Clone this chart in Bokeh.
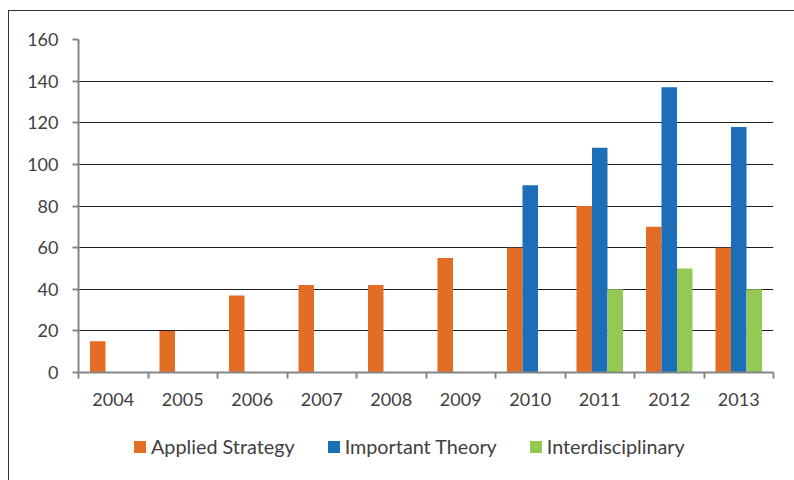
import numpy as np
from bokeh.plotting import figure
from bokeh.layouts import column
from bokeh.models import ColumnDataSource, FixedTicker, Legend, LegendItem, Range1d
from bokeh.transform import dodge
from bokeh.embed import file_html
from bokeh.resources import INLINE

years = ["2004", "2005", "2006", "2007", "2008", "2009", "2010", "2011", "2012", "2013"]
applied_strategy = [15, 20, 37, 42, 42, 55, 60, 80, 70, 60]
important_theory = [0, 0, 0, 0, 0, 0, 90, 108, 137, 118]
interdisciplinary = [0, 0, 0, 0, 0, 0, 0, 40, 50, 40]
y_ticks = [0, 20, 40, 60, 80, 100, 120, 140, 160]
series_names = ["Applied Strategy", "Important Theory", "Interdisciplinary"]
series_colors = ["#E46D25", "#1C6EB9", "#94C953"]

xc = [i + 0.5 for i in range(len(years))]
src = ColumnDataSource(dict(xc=xc, applied=applied_strategy,
                            theory=important_theory, inter=interdisciplinary))

FONT = "Lato"
TXT = "#404040"
W = 785

p = figure(width=W, height=404, output_backend="svg", toolbar_location=None,
           x_range=Range1d(0, len(years)), y_range=Range1d(0, 160),
           min_border_left=69, min_border_right=21, min_border_top=28,
           min_border_bottom=43)
p.outline_line_color = None
p.background_fill_color = "white"
p.border_fill_color = "white"

w = 0.223
cols = ["applied", "theory", "inter"]
offsets = [-w, 0, w]
for col, off, c in zip(cols, offsets, series_colors):
    p.vbar(x=dodge("xc", off, range=p.x_range), top=col, width=w, bottom=0,
           source=src, fill_color=c, line_color=None)

# axes
p.xaxis.ticker = FixedTicker(ticks=xc, minor_ticks=list(range(len(years) + 1)))
p.xaxis.major_label_overrides = {x: y for x, y in zip(xc, years)}
p.xaxis.major_tick_in = 0
p.xaxis.major_tick_out = 0
p.xaxis.minor_tick_in = 0
p.xaxis.minor_tick_out = 6
p.xaxis.minor_tick_line_color = "#868686"
p.xaxis.major_label_standoff = 14

p.yaxis.ticker = FixedTicker(ticks=y_ticks)
p.yaxis.major_tick_in = 0
p.yaxis.major_tick_out = 6
p.yaxis.minor_tick_line_color = None
p.yaxis.major_label_standoff = 14

for ax in (p.xaxis, p.yaxis):
    ax.axis_line_color = "#868686"
    ax.axis_line_width = 2
    ax.major_tick_line_color = "#868686"
    ax.major_tick_line_width = 2
    ax.minor_tick_line_width = 2
    ax.major_label_text_font = FONT
    ax.major_label_text_font_size = "18px"
    ax.major_label_text_color = TXT

p.xgrid.visible = False
p.ygrid.grid_line_color = "#1f1f1f"
p.ygrid.grid_line_width = 1

# legend strip: same series as zero-height (invisible) bars, so only the legend shows
lf = figure(width=W, height=65, output_backend="svg", toolbar_location=None,
            x_range=Range1d(0, len(years)), y_range=Range1d(0, 160),
            x_axis_location=None, y_axis_location=None,
            min_border_left=0, min_border_right=0, min_border_top=0, min_border_bottom=0)
lf.outline_line_color = None
lf.xgrid.visible = False
lf.ygrid.visible = False
renderers = []
for col, off, c in zip(cols, offsets, series_colors):
    r = lf.vbar(x=dodge("xc", off, range=lf.x_range), top=col, bottom=col, width=w,
                source=src, fill_color=c, line_color=None)
    renderers.append(r)

legend = Legend(items=[LegendItem(label=n, renderers=[r]) for n, r in zip(series_names, renderers)],
                orientation="horizontal", location=(54, 22))
legend.glyph_width = 15
legend.glyph_height = 15
legend.label_standoff = 4
legend.spacing = 31
legend.padding = 0
legend.margin = 0
legend.border_line_color = None
legend.background_fill_alpha = 0
legend.label_text_font = FONT
legend.label_text_font_size = "19.8px"
legend.label_text_color = TXT
lf.add_layout(legend)

layout = column(p, lf, spacing=0)
layout.styles = {"border-left": "1px solid #333333", "border-top": "1px solid #333333",
                 "margin-left": "8px", "margin-top": "10px", "background": "white"}

open("out.html", "w").write(file_html(layout, INLINE))
